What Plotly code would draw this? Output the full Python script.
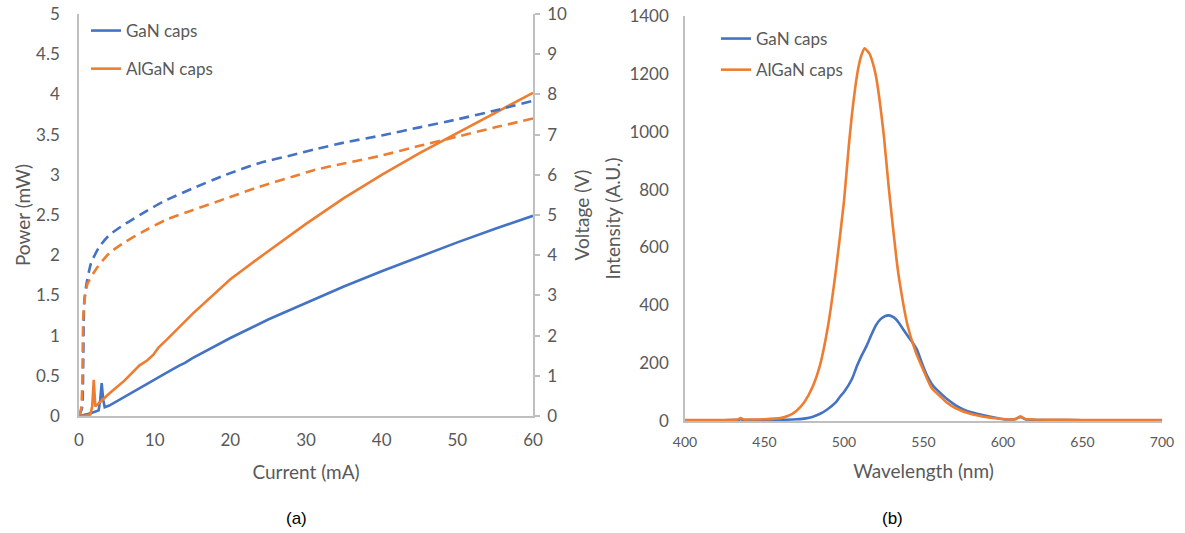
import plotly.graph_objects as go

# ---------------- (a) power / voltage versus current ----------------
gan_current_p = [0, 1.0, 2.0, 2.6, 2.8, 3.0, 3.2, 3.4, 4.0, 6.0, 8.0, 10.0, 12.0, 13.3, 14.0, 15.0, 20, 25, 30, 35, 40, 45, 50, 55, 60]
gan_power = [0, 0.02, 0.05, 0.07, 0.2, 0.41, 0.2, 0.11, 0.13, 0.24, 0.35, 0.46, 0.56, 0.63, 0.66, 0.72, 0.97, 1.2, 1.41, 1.61, 1.8, 1.98, 2.16, 2.33, 2.49]

algan_current_p = [0, 1.0, 1.5, 1.75, 1.95, 2.15, 2.4, 4.0, 6.0, 8.0, 9.0, 9.8, 10.5, 11.5, 15, 20, 25, 30, 35, 40, 45, 50, 55, 60]
algan_power = [0, 0.005, 0.02, 0.12, 0.45, 0.12, 0.14, 0.28, 0.44, 0.63, 0.69, 0.76, 0.85, 0.94, 1.27, 1.7, 2.05, 2.39, 2.71, 3.0, 3.27, 3.52, 3.77, 4.02]

gan_current_v = [0, 0.4, 0.55, 0.62, 0.7, 0.93, 1.59, 2.69, 4.0, 6.2, 8.4, 11.1, 15, 19.4, 23.8, 28.2, 31.1, 35, 40, 45, 50, 55, 60]
gan_voltage = [0, 0.2, 1.2, 2.3, 2.85, 3.22, 3.8, 4.21, 4.5, 4.79, 5.04, 5.33, 5.66, 6.0, 6.29, 6.49, 6.63, 6.8, 6.98, 7.18, 7.38, 7.6, 7.84]

algan_current_v = [0, 0.3, 0.45, 0.5, 0.57, 0.79, 1.15, 2.47, 4.0, 6.2, 8.4, 11.5, 15, 19.4, 23.8, 28.2, 31.1, 35, 40, 45, 50, 55, 60]
algan_voltage = [0, 0.2, 1.0, 1.8, 2.47, 2.97, 3.3, 3.71, 4.05, 4.34, 4.58, 4.88, 5.12, 5.41, 5.70, 5.95, 6.12, 6.28, 6.48, 6.72, 6.95, 7.18, 7.4]

# ---------------- (b) electroluminescence spectra ----------------
gan_wavelength = [400, 410, 420, 430, 433, 435, 437, 440, 450, 460, 470, 476, 480, 485, 489, 495, 497.5, 500, 505, 508,
                  511, 514, 517, 520, 523, 526, 528, 530, 533, 535, 540, 543, 546, 549, 552, 556, 560, 565, 570,
                  575, 580, 590, 598, 605, 608, 611, 614, 620, 640, 660, 680, 700]
gan_intensity = [2, 2, 2, 3, 3, 6, 3, 3, 3, 4, 6, 9, 14, 25, 38, 65, 84, 100, 145, 188,
                 225, 257, 295, 330, 352, 363, 365, 362, 350, 335, 295, 272, 245, 200, 160, 122, 100, 75, 55,
                 40, 30, 17, 8, 5, 7, 14, 6, 4, 3, 2, 2, 2]

algan_wavelength = [400, 410, 420, 430, 433, 435, 437, 440, 450, 460, 465, 470, 475, 480, 485, 490, 495, 500, 503, 505,
                    507, 509, 511, 513, 516, 518, 520, 522, 525, 528, 530, 533, 535, 540, 545, 550, 555, 560, 565,
                    570, 580, 590, 600, 605, 608, 611, 614, 620, 640, 660, 680, 700]
algan_intensity = [3, 3, 3, 4, 5, 10, 5, 5, 6, 10, 18, 35, 65, 115, 195, 330, 525, 760, 950, 1060,
                   1150, 1220, 1265, 1288, 1270, 1240, 1195, 1125, 990, 815, 710, 560, 480, 330, 240, 175, 115, 88, 62,
                   45, 24, 13, 7, 5, 7, 16, 7, 5, 4, 3, 3, 3]

BLUE = "#4472C4"
ORANGE = "#ED7D31"
GREY_TXT = "#595959"
AXIS_LINE = "#BFBFBF"
FONT = "Lato"

W, H = 1185, 533


def px_x(p):
    return p / W


def px_y(p):
    return 1 - p / H


fig = go.Figure()

# power (solid) on left axis
fig.add_trace(go.Scatter(x=gan_current_p, y=gan_power, mode="lines", name="GaN caps",
                         line=dict(color=BLUE, width=2.6), xaxis="x", yaxis="y",
                         legend="legend", legendgroup="a1"))
fig.add_trace(go.Scatter(x=algan_current_p, y=algan_power, mode="lines", name="AlGaN caps",
                         line=dict(color=ORANGE, width=2.6), xaxis="x", yaxis="y",
                         legend="legend", legendgroup="a2"))
# voltage (dashed) on right axis
fig.add_trace(go.Scatter(x=gan_current_v, y=gan_voltage, mode="lines", showlegend=False,
                         line=dict(color=BLUE, width=2.6, dash="10px,6px", shape="spline", smoothing=0.6),
                         xaxis="x", yaxis="y2"))
fig.add_trace(go.Scatter(x=algan_current_v, y=algan_voltage, mode="lines", showlegend=False,
                         line=dict(color=ORANGE, width=2.6, dash="10px,6px", shape="spline", smoothing=0.6),
                         xaxis="x", yaxis="y2"))

# spectra
fig.add_trace(go.Scatter(x=gan_wavelength, y=gan_intensity, mode="lines", name="GaN caps",
                         line=dict(color=BLUE, width=2.6, shape="spline", smoothing=0.5),
                         xaxis="x2", yaxis="y3", legend="legend2", legendgroup="b1"))
fig.add_trace(go.Scatter(x=algan_wavelength, y=algan_intensity, mode="lines", name="AlGaN caps",
                         line=dict(color=ORANGE, width=2.6, shape="spline", smoothing=0.5),
                         xaxis="x2", yaxis="y3", legend="legend2", legendgroup="b2"))

tick_font = dict(family=FONT, size=17, color=GREY_TXT)
title_font = dict(family=FONT, size=19, color=GREY_TXT)

common = dict(showgrid=False, zeroline=False, showline=True, linecolor=AXIS_LINE, linewidth=1.5,
              ticks="", tickfont=tick_font, automargin=False)

fig.update_layout(
    template="none",
    width=W, height=H,
    margin=dict(l=0, r=0, t=0, b=0, autoexpand=False),
    paper_bgcolor="white", plot_bgcolor="white",
    font=dict(family=FONT, color=GREY_TXT),
    xaxis=dict(domain=[px_x(79), px_x(533)], range=[0, 60], dtick=10, anchor="y",
               title=dict(text="Current (mA)", font=title_font, standoff=17),
               ticklabelstandoff=8, **common),
    yaxis=dict(domain=[px_y(416), px_y(14)], range=[0, 5], dtick=0.5, anchor="x",
               title=dict(text="Power (mW)", font=title_font, standoff=0),
               ticklabelstandoff=14, **common),
    yaxis2=dict(range=[0, 10], dtick=1, overlaying="y", side="right", anchor="x",
                title=dict(text="Voltage (V)", font=title_font, standoff=10),
                showgrid=False, zeroline=False, showline=True, linecolor=AXIS_LINE, linewidth=1.5,
                ticks="outside", ticklen=5, tickcolor=AXIS_LINE, tickwidth=1.5,
                tickfont=tick_font, ticklabelstandoff=4, automargin=False),
    xaxis2=dict(domain=[px_x(685), px_x(1162)], range=[400, 700], dtick=50, anchor="y3",
                title=dict(text="Wavelength (nm)", font=title_font, standoff=16),
                ticklabelstandoff=7, automargin=False,
                showgrid=False, zeroline=False, showline=True, linecolor=AXIS_LINE, linewidth=1.5,
                ticks="", tickfont=dict(family=FONT, size=14, color=GREY_TXT)),
    yaxis3=dict(domain=[px_y(421), px_y(16)], range=[0, 1400], dtick=200, anchor="x2",
                title=dict(text="Intensity (A.U.)", font=title_font, standoff=4),
                ticklabelstandoff=11, **common),
    legend=dict(x=px_x(86), y=px_y(13), xanchor="left", yanchor="top",
                bgcolor="rgba(0,0,0,0)", font=dict(family=FONT, size=17, color=GREY_TXT),
                tracegroupgap=13, itemwidth=30),
    legend2=dict(x=px_x(716), y=px_y(21), xanchor="left", yanchor="top",
                 bgcolor="rgba(0,0,0,0)", font=dict(family=FONT, size=17, color=GREY_TXT),
                 tracegroupgap=6, itemwidth=30),
    annotations=[
        dict(text="(a)", x=px_x(296), y=px_y(518), xref="paper", yref="paper", showarrow=False,
             xanchor="center", yanchor="middle",
             font=dict(family="Liberation Sans", size=17, color="black")),
        dict(text="(b)", x=px_x(893), y=px_y(518), xref="paper", yref="paper", showarrow=False,
             xanchor="center", yanchor="middle",
             font=dict(family="Liberation Sans", size=17, color="black")),
    ],
)

fig.write_html("out.html")
